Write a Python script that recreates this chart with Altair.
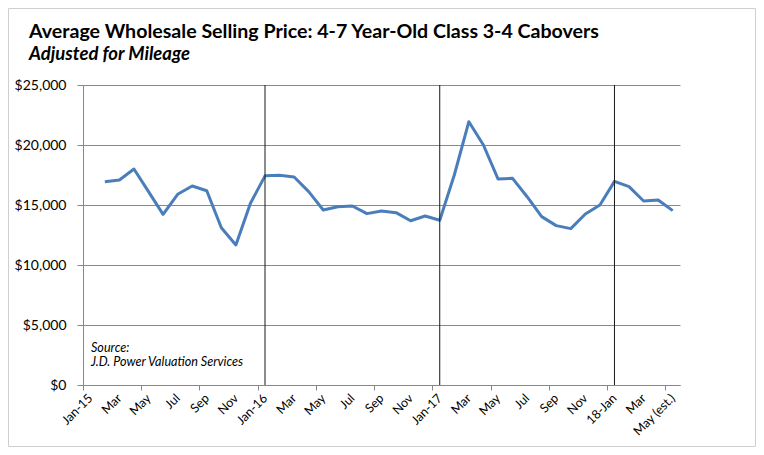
import altair as alt
import pandas as pd

months = [
    "Jan-15", "Feb-15", "Mar-15", "Apr-15", "May-15", "Jun-15", "Jul-15", "Aug-15", "Sep-15", "Oct-15", "Nov-15", "Dec-15",
    "Jan-16", "Feb-16", "Mar-16", "Apr-16", "May-16", "Jun-16", "Jul-16", "Aug-16", "Sep-16", "Oct-16", "Nov-16", "Dec-16",
    "Jan-17", "Feb-17", "Mar-17", "Apr-17", "May-17", "Jun-17", "Jul-17", "Aug-17", "Sep-17", "Oct-17", "Nov-17", "Dec-17",
    "Jan-18", "Feb-18", "Mar-18", "Apr-18", "May-18",
]
tick_labels = [
    "Jan-15", "", "Mar", "", "May", "", "Jul", "", "Sep", "", "Nov", "",
    "Jan-16", "", "Mar", "", "May", "", "Jul", "", "Sep", "", "Nov", "",
    "Jan-17", "", "Mar", "", "May", "", "Jul", "", "Sep", "", "Nov", "",
    "18-Jan", "", "Mar", "", "May (est.)",
]
prices = [
    None, 16940, 17080, 18000, 16110, 14220, 15890, 16580, 16190, 13110, 11670, 15140,
    17430, 17470, 17330, 16110, 14580, 14860, 14920, 14280, 14500, 14360, 13690, 14080,
    13730, 17500, 21940, 20000, 17170, 17220, 15690, 14030, 13280, 13030, 14250, 15000,
    16970, 16530, 15330, 15420, 14530,
]
year_starts = ["Jan-16", "Jan-17", "Jan-18"]
source_lines = ["Source:", "J.D. Power Valuation Services"]
title_text = "Average Wholesale Selling Price: 4-7 Year-Old Class 3-4 Cabovers"
subtitle_text = "Adjusted for Mileage"
y_ticks = [0, 5000, 10000, 15000, 20000, 25000]

W, H = 597, 300
N = len(months)

df = pd.DataFrame({"month": months, "idx": list(range(N)), "price": prices})
line_df = df.dropna()
lab_df = pd.DataFrame({"idx": list(range(N)), "label": tick_labels})
lab_df = lab_df[lab_df["label"] != ""]
sep_df = pd.DataFrame({"month": year_starts, "idx": [months.index(m) for m in year_starts]})
src_df = pd.DataFrame({"line": source_lines, "row": list(range(len(source_lines)))})
one_df = pd.DataFrame({"t": [title_text], "s": [subtitle_text]})

FONT = "Lato"
GRAY = "#888888"

x_scale = alt.Scale(domain=[0, N], nice=False, zero=False)
x_axis = alt.Axis(
    values=list(range(N + 1)),
    labels=False,
    grid=False,
    tickSize=5,
    tickColor=GRAY,
    domainColor=GRAY,
    title=None,
)
y_axis = alt.Axis(
    values=y_ticks,
    format="$,.0f",
    labelFont=FONT,
    labelFontSize=14,
    labelColor="#000000",
    labelPadding=11,
    tickSize=6,
    tickColor=GRAY,
    domainColor=GRAY,
    gridColor=GRAY,
    gridWidth=1,
    title=None,
)

line = alt.Chart(line_df).transform_calculate(pos="datum.idx + 0.5").mark_line(
    color="#4A7EBB", strokeWidth=3, strokeJoin="round"
).encode(
    x=alt.X("pos:Q", scale=x_scale, axis=x_axis),
    y=alt.Y("price:Q", scale=alt.Scale(domain=[0, 25000], nice=False), axis=y_axis),
)

xlabels = alt.Chart(lab_df).transform_calculate(pos="datum.idx + 0.5").mark_text(
    align="right", baseline="top", angle=315, font=FONT, fontSize=12.5, color="#000000"
).encode(
    x=alt.X("pos:Q", scale=x_scale),
    xOffset=alt.value(-4),
    y=alt.value(H + 7),
    text="label:N",
)

seps = alt.Chart(sep_df).transform_calculate(pos="datum.idx + 0.5").mark_rule(
    color="#1a1a1a", strokeWidth=1
).encode(
    x=alt.X("pos:Q", scale=x_scale),
)

src = alt.Chart(src_df).transform_calculate(py="266.5 + datum.row * 14.5").mark_text(
    align="left", baseline="alphabetic", font=FONT, fontStyle="italic", fontSize=12.6, color="#000000"
).encode(
    x=alt.value(8),
    y=alt.Y("py:Q", scale=None),
    text="line:N",
)

title = alt.Chart(one_df).mark_text(
    align="left", baseline="alphabetic", font=FONT, fontWeight="bold", fontSize=19.6, color="#000000"
).encode(x=alt.value(-54), y=alt.value(-46.7), text="t:N")

subtitle = alt.Chart(one_df).mark_text(
    align="left", baseline="alphabetic", font=FONT, fontWeight="bold", fontStyle="italic", fontSize=18.5, color="#000000"
).encode(x=alt.value(-54), y=alt.value(-25), text="s:N")

border = alt.Chart(one_df).mark_rect(
    filled=False, stroke="#cfcfcf", strokeWidth=1
).encode(
    x=alt.value(-74.5), x2=alt.value(672.5), y=alt.value(-76.5), y2=alt.value(361.5)
)

chart = alt.layer(border, line, xlabels, seps, src, title, subtitle).properties(
    width=W,
    height=H,
    autosize=alt.AutoSizeParams(type="none"),
    padding={"left": 75, "top": 77, "right": 76, "bottom": 62},
).configure_view(stroke="transparent")

chart.save("out.html", embed_options={"renderer": "svg", "actions": False})
